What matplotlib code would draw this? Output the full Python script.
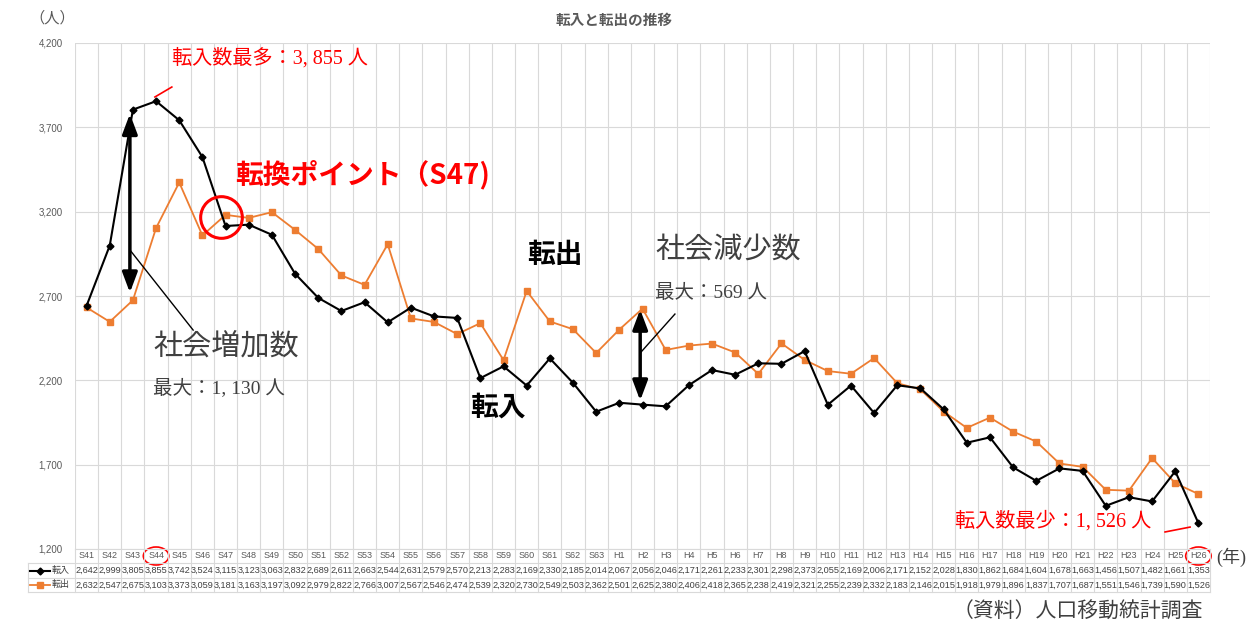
import matplotlib
matplotlib.use("Agg")
import matplotlib.pyplot as plt
from matplotlib.patches import Ellipse

plt.rcParams['font.family'] = ['Noto Sans CJK JP', 'DejaVu Sans']

categories = ["S41", "S42", "S43", "S44", "S45", "S46", "S47", "S48", "S49", "S50",
              "S51", "S52", "S53", "S54", "S55", "S56", "S57", "S58", "S59", "S60",
              "S61", "S62", "S63", "H1", "H2", "H3", "H4", "H5", "H6", "H7", "H8",
              "H9", "H10", "H11", "H12", "H13", "H14", "H15", "H16", "H17", "H18",
              "H19", "H20", "H21", "H22", "H23", "H24", "H25", "H26"]
tennyu = [2642, 2999, 3805, 3855, 3742, 3524, 3115, 3123, 3063, 2832,
          2689, 2611, 2663, 2544, 2631, 2579, 2570, 2213, 2283, 2169,
          2330, 2185, 2014, 2067, 2056, 2046, 2171, 2261, 2233, 2301, 2298,
          2373, 2055, 2169, 2006, 2171, 2152, 2028, 1830, 1862, 1684,
          1604, 1678, 1663, 1456, 1507, 1482, 1661, 1353]
tenshutsu = [2632, 2547, 2675, 3103, 3373, 3059, 3181, 3163, 3197, 3092,
             2979, 2822, 2766, 3007, 2567, 2546, 2474, 2539, 2320, 2730,
             2549, 2503, 2362, 2501, 2625, 2380, 2406, 2418, 2365, 2238, 2419,
             2321, 2255, 2239, 2332, 2183, 2146, 2015, 1918, 1979, 1896,
             1837, 1707, 1687, 1551, 1546, 1739, 1590, 1526]
yticks = [1200, 1700, 2200, 2700, 3200, 3700, 4200]

W, H = 1247, 625
fig = plt.figure(figsize=(W / 100, H / 100), dpi=100)
fig.patch.set_facecolor('white')

L, R, T, B = 75, 1210, 43, 549
ax = fig.add_axes([L / W, 1 - B / H, (R - L) / W, (B - T) / H])
n = len(categories)
x = list(range(n))
ax.set_xlim(-0.5, n - 0.5)
ax.set_ylim(1200, 4200)
for s in ax.spines.values():
    s.set_visible(False)

narrow = ['Liberation Sans Narrow', 'Liberation Sans', 'DejaVu Sans']
grid_c = '#D9D9D9'
for k in range(n + 1):
    ax.axvline(k - 0.5, color=grid_c, lw=0.8, zorder=0)
ax.set_yticks(yticks)
ax.set_yticklabels([f"{v:,}" for v in yticks], fontsize=7, color='#595959',
                   family=['Liberation Sans'])
ax.tick_params(axis='y', length=0, pad=9)
ax.set_xticks([])
ax.grid(axis='y', color=grid_c, lw=0.8, zorder=0)

orange = '#ED7D31'
ax.plot(x, tenshutsu, color=orange, lw=1.3, marker='s', ms=5, zorder=3)
ax.plot(x, tennyu, color='black', lw=1.5, marker='D', ms=3.5, zorder=4)


def ftext(px, py, s, **kw):
    fig.text(px / W, 1 - py / H, s, **kw)


gray = '#595959'
dark = '#404040'
ftext(614, 20, "転入と転出の推移", ha='center', va='center', fontsize=10.5,
      fontweight='bold', color=gray)
ftext(52, 18, "（人）", ha='center', va='center', fontsize=11, color=gray)

serif = ['Liberation Serif', 'Noto Sans CJK JP']
red = '#FF0000'
ftext(172, 58, "転入数最多：3, 855 人", ha='left', va='center', fontsize=14.5,
      color=red, family=serif)
ax.plot([2.95, 3.68], [3880, 3939], color=red, lw=1.2, clip_on=False)

ftext(235, 175, "転換ポイント（S47)", ha='left', va='center', fontsize=20,
      color=red, fontweight='bold')
ax.plot([5.8], [3168], marker='o', ms=30, mfc='none', mec=red, mew=2.2, zorder=6)

ftext(153, 347, "社会増加数", ha='left', va='center', fontsize=21, color=dark,
      family=serif)
ftext(153, 388, "最大：1, 130 人", ha='left', va='center', fontsize=14,
      color=dark, family=serif)
ax.annotate("", xy=(1.87, 3780), xytext=(1.87, 2720),
            arrowprops=dict(arrowstyle='<|-|>,head_length=1.2,head_width=0.45',
                            color='black', lw=2.5, shrinkA=0, shrinkB=0), zorder=7)
ax.plot([1.87, 4.6], [2973, 2498], color='black', lw=1.0, zorder=7)

ftext(527, 255, "転出", ha='left', va='center', fontsize=20, fontweight='bold',
      color='black')
ftext(470, 408, "転入", ha='left', va='center', fontsize=20, fontweight='bold',
      color='black')

ftext(655, 250, "社会減少数", ha='left', va='center', fontsize=21, color=dark,
      family=serif)
ftext(655, 293, "最大：569 人", ha='left', va='center', fontsize=14,
      color=dark, family=serif)
ax.annotate("", xy=(23.9, 2620), xytext=(23.9, 2080),
            arrowprops=dict(arrowstyle='<|-|>,head_length=1.2,head_width=0.45',
                            color='black', lw=2.5, shrinkA=0, shrinkB=0), zorder=7)
ax.plot([23.9, 25.4], [2362, 2593], color='black', lw=1.0, zorder=7)

ftext(955, 521, "転入数最少：1, 526 人", ha='left', va='center', fontsize=14.5,
      color=red, family=serif)
ax.plot([46.56, 47.64], [1301, 1330], color=red, lw=1.2, zorder=7)

ftext(1216, 557, "(年)", ha='left', va='center', fontsize=13, color=dark,
      family=serif)
ftext(1203, 612, "（資料）人口移動統計調査", ha='right', va='center', fontsize=15,
      color=dark, family=serif)

# data table below the axis
tr = ax.get_xaxis_transform()
ah = B - T


def ay(py):
    return -(py - B) / ah


rows_y = [ay(549), ay(563), ay(578), ay(592)]
colw = (R - L) / n
left_x = (28 - L) / colw - 0.5
tc = '#D9D9D9'
for k in range(n + 1):
    ax.plot([k - 0.5, k - 0.5], [rows_y[0], rows_y[3]], transform=tr, color=tc,
            lw=0.8, clip_on=False)
ax.plot([-0.5, n - 0.5], [rows_y[0], rows_y[0]], transform=tr, color=tc, lw=0.8,
        clip_on=False)
for yy in rows_y[1:]:
    ax.plot([left_x, n - 0.5], [yy, yy], transform=tr, color=tc, lw=0.8,
            clip_on=False)
ax.plot([left_x, left_x], [rows_y[1], rows_y[3]], transform=tr, color=tc, lw=0.8,
        clip_on=False)

yc = [ay(556), ay(570.5), ay(585)]
for i, c in enumerate(categories):
    ax.text(i, yc[0], c, transform=tr, ha='center', va='center', fontsize=6.5,
            color=gray, family=narrow, clip_on=False)
    ax.text(i, yc[1], f"{tennyu[i]:,}", transform=tr, ha='center', va='center',
            fontsize=6.6, color=dark, family=narrow, clip_on=False)
    ax.text(i, yc[2], f"{tenshutsu[i]:,}", transform=tr, ha='center', va='center',
            fontsize=6.6, color=dark, family=narrow, clip_on=False)

lx0 = (30 - L) / colw - 0.5
lx1 = (50 - L) / colw - 0.5
lxm = (40 - L) / colw - 0.5
ltx = (52 - L) / colw - 0.5
ax.plot([lx0, lx1], [yc[1], yc[1]], transform=tr, color='black', lw=1.5,
        clip_on=False)
ax.plot([lxm], [yc[1]], transform=tr, color='black', marker='D', ms=3.5,
        clip_on=False)
ax.text(ltx, yc[1], "転入", transform=tr, ha='left', va='center', fontsize=6.5,
        color=dark, clip_on=False)
ax.plot([lx0, lx1], [yc[2], yc[2]], transform=tr, color=orange, lw=1.3,
        clip_on=False)
ax.plot([lxm], [yc[2]], transform=tr, color=orange, marker='s', ms=4.5,
        clip_on=False)
ax.text(ltx, yc[2], "転出", transform=tr, ha='left', va='center', fontsize=6.5,
        color=dark, clip_on=False)

for idx in (categories.index("S44"), categories.index("H26")):
    e = Ellipse((idx, yc[0]), width=1.1, height=18 / ah, transform=tr,
                fill=False, edgecolor=red, lw=1.2, clip_on=False)
    ax.add_patch(e)

fig.savefig("out.png", dpi=100, facecolor='white')
